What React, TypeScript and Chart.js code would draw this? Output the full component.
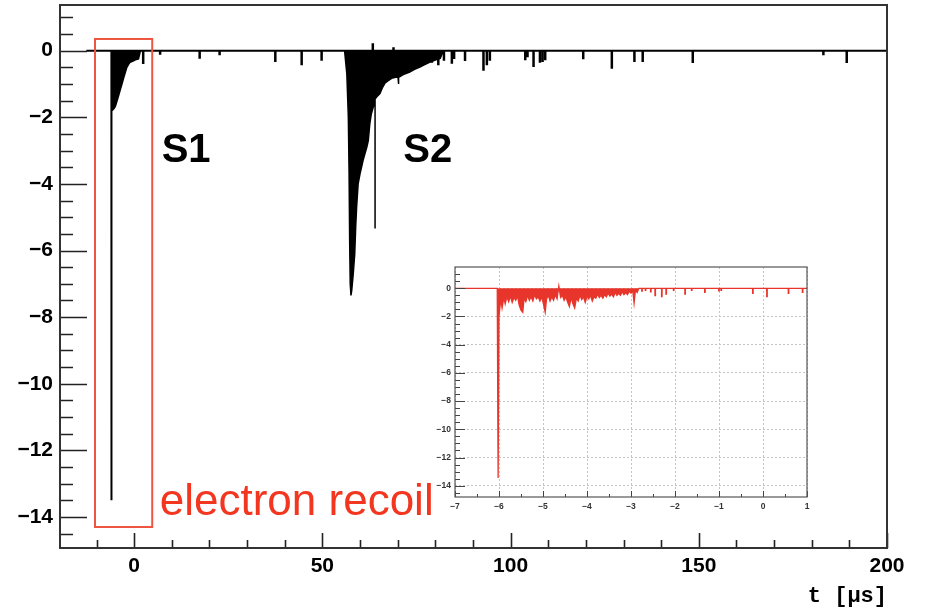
import React, { useEffect, useRef } from "react";
import { Chart, registerables } from "chart.js";

Chart.register(...registerables);

// ---------------- Main waveform (t in µs) ----------------
const baselineT = [-12.7, 200];
const baselineV = [0, 0];

// S1 pulse + its fast tail
const s1T = [-6.05, -6.05, -6.0, -5.8, -5.5, -5.2, -5.0, -4.6, -4.2, -3.7, -3.3, -2.8, -2.4, -2.0, -1.5, -1.1, -0.6, -0.2, 0.3, 0.8, 1.1, 1.4, 1.6];
const s1V = [0, -13.5, -1.8, -1.78, -1.75, -1.7, -1.65, -1.5, -1.35, -1.15, -1.0, -0.8, -0.65, -0.5, -0.4, -0.34, -0.32, -0.3, -0.27, -0.25, -0.24, -0.1, 0];

// S2 pulse envelope
const s2T = [55.9, 56.0, 56.5, 56.9, 57.1, 57.25, 57.4, 57.6, 57.8, 58.2,
  58.6, 58.85, 59.1, 59.5, 60.0, 60.4, 60.8, 61.3, 61.8, 62.2,
  62.6, 63.0, 63.5, 64.0, 64.0, 64.0, 64.4, 65.3, 66.0, 66.6,
  67.5, 68.4, 69.5, 70.1, 70.2, 70.3, 71.5, 73.2, 74.5, 75.9,
  77.2, 78.6, 80.0, 81.3, 82.2];
const s2V = [0, 0, -0.7, -2.0, -3.7, -5.7, -7.0, -7.35, -7.2, -6.7,
  -6.1, -5.3, -4.7, -4.0, -3.7, -3.5, -3.3, -3.1, -2.9, -2.7,
  -2.2, -1.9, -1.7, -1.55, -5.34, -1.45, -1.39, -1.29, -1.1, -0.98,
  -0.9, -0.83, -0.8, -0.8, -1.0, -0.8, -0.72, -0.64, -0.56, -0.49,
  -0.42, -0.34, -0.28, -0.23, 0];

// single photo-electron spikes
const spikeT = [2.4, 6.9, 17.4, 22.7, 37.5, 44.5, 49.8, 63.4, 68.9, 79.1, 80.8, 82.3, 84.4, 85.0, 87.9, 92.8, 93.7, 94.5, 103.9, 104.5, 106.1, 107.8, 108.5, 109.2, 119.3, 126.9, 132.9, 135.1, 148.4, 183.1, 189.3];
const spikeV = [-0.4, -0.12, -0.24, -0.14, -0.34, -0.44, -0.3, 0.22, 0.1, -0.36, -0.44, -0.3, -0.39, -0.25, -0.31, -0.6, -0.44, -0.3, -0.29, -0.2, -0.49, -0.36, -0.34, -0.29, -0.26, -0.54, -0.34, -0.34, -0.37, -0.14, -0.37];

const xMajor = [0, 50, 100, 150, 200];
const xMinor = [-10, 10, 20, 30, 40, 60, 70, 80, 90, 110, 120, 130, 140, 160, 170, 180, 190];
const yMajor = [-14, -12, -10, -8, -6, -4, -2, 0];
const yMinor = [-14.5, -13.5, -13, -12.5, -11.5, -11, -10.5, -9.5, -9, -8.5, -7.5, -7, -6.5, -5.5, -5, -4.5, -3.5, -3, -2.5, -1.5, -1, -0.5, 0.5, 1];

// "electron recoil" box (t range, amplitude range)
const boxT = [-10.4, 4.8];
const boxV = [0.35, -14.3];

// ---------------- Inset: zoom on S1 ----------------
const insetT = [
  -7.0, -6.04, -6.02, -6.0, -5.96, -5.93, -5.89, -5.86, -5.82, -5.78,
  -5.74, -5.7, -5.66, -5.62, -5.58, -5.54, -5.5, -5.46, -5.43, -5.39,
  -5.35, -5.31, -5.27, -5.23, -5.19, -5.15, -5.11, -5.07, -5.03, -4.99,
  -4.95, -4.92, -4.88, -4.84, -4.8, -4.76, -4.72, -4.68, -4.64, -4.6,
  -4.56, -4.52, -4.48, -4.44, -4.4, -4.36, -4.32, -4.28, -4.24, -4.2,
  -4.16, -4.12, -4.08, -4.04, -4.0, -3.96, -3.92, -3.88, -3.84, -3.8,
  -3.76, -3.72, -3.68, -3.64, -3.6, -3.56, -3.52, -3.48, -3.44, -3.4,
  -3.36, -3.32, -3.28, -3.24, -3.2, -3.16, -3.12, -3.08, -3.04, -3.0,
  -2.96, -2.93, -2.9, -2.86, -2.82, 1.0];
const insetV = [
  0, 0, -13.45, -2.0, -0.75, -1.4, -0.65, -1.1, -0.6, -0.95,
  -0.55, -1.0, -0.65, -0.85, -0.55, -1.2, -1.55, -1.7, -0.7, -0.95,
  -0.5, -0.85, -0.6, -0.9, -0.45, -0.75, -0.6, -0.9, -0.6, -1.1,
  -1.7, -0.75, -0.5, -0.9, -0.6, -0.85, -0.45, -0.75, 0.15, -0.65,
  -0.5, -0.85, -0.6, -1.0, -1.3, -0.65, -1.1, -1.4, -0.7, -0.9,
  -0.5, -0.8, -0.6, -1.0, -0.55, -0.75, -0.5, -0.9, -0.6, -0.7,
  -0.4, -0.65, -0.5, -0.7, -0.45, -0.6, -0.35, -0.55, -0.4, -0.6,
  -0.3, -0.5, -0.35, -0.5, -0.25, -0.45, -0.3, -0.45, -0.2, -0.35,
  -0.15, -1.05, -0.15, -0.3, 0, 0];
const insetSpikeT = [-2.75, -2.67, -2.55, -2.45, -2.3, -2.2, -2.03, -1.77, -1.62, -1.32, -1.0, -0.95, -0.23, 0.09, 0.58, 0.9];
const insetSpikeV = [-0.25, -0.2, -0.3, -0.57, -0.64, -0.45, -0.2, -0.45, -0.2, -0.33, -0.22, -0.2, -0.4, -0.64, -0.4, -0.33];

const insetXMajor = [-7, -6, -5, -4, -3, -2, -1, 0, 1];
const insetXMinor = [-6.5, -5.5, -4.5, -3.5, -2.5, -1.5, -0.5, 0.5];
const insetYMajor = [-14, -12, -10, -8, -6, -4, -2, 0];
const insetYMinor = [-14.5, -13.5, -13, -12.5, -11.5, -11, -10.5, -9.5, -9, -8.5, -7.5, -7, -6.5, -5.5, -5, -4.5, -3.5, -3, -2.5, -1.5, -1, -0.5, 0.5, 1];

// ---------------- helpers ----------------
const pts = (ts: number[], vs: number[]) => ts.map((t, i) => ({ x: t, y: vs[i] }));
const spikePts = (ts: number[], vs: number[]) =>
  ts.flatMap((t, i) => [{ x: t, y: 0 }, { x: t, y: vs[i] }, { x: t, y: null as any }]);
const fmt = (v: any) => (Number(v) < 0 ? "\u2212" + Math.abs(Number(v)) : String(v));

const fitX = (h: number) => (s: any) => {
  s.height = h;
  s.paddingLeft = 0;
  s.paddingRight = 0;
  s.paddingTop = 0;
  s.paddingBottom = 0;
};
const fitY = (w: number) => (s: any) => {
  s.width = w;
  s.paddingLeft = 0;
  s.paddingRight = 0;
  s.paddingTop = 0;
  s.paddingBottom = 0;
};

type Deco = {
  xMajor: number[]; xMinor: number[]; yMajor: number[]; yMinor: number[];
  xMajorLen: number; xMinorLen: number; yMajorLen: number; yMinorLen: number;
  tickColor: string; tickWidth: number; frameColor: string; frameWidth: number;
  background?: string;
};

function axisPlugin(id: string, d: Deco) {
  return {
    id,
    beforeDraw(chart: any) {
      if (!d.background) return;
      const { ctx, chartArea: a } = chart;
      ctx.save();
      ctx.fillStyle = d.background;
      ctx.fillRect(a.left, a.top, a.right - a.left, a.bottom - a.top);
      ctx.restore();
    },
    afterDatasetsDraw(chart: any) {
      const { ctx, chartArea: a, scales } = chart;
      const x = scales.x;
      const y = scales.y;
      ctx.save();
      ctx.strokeStyle = d.tickColor;
      ctx.lineWidth = d.tickWidth;
      ctx.lineCap = "butt";
      ctx.beginPath();
      const tx = (v: number, len: number) => {
        const p = Math.round(x.getPixelForValue(v)) + 0.5;
        ctx.moveTo(p, a.bottom);
        ctx.lineTo(p, a.bottom - len);
      };
      const ty = (v: number, len: number) => {
        const p = Math.round(y.getPixelForValue(v)) + 0.5;
        ctx.moveTo(a.left, p);
        ctx.lineTo(a.left + len, p);
      };
      d.xMajor.forEach((v) => tx(v, d.xMajorLen));
      d.xMinor.forEach((v) => tx(v, d.xMinorLen));
      d.yMajor.forEach((v) => ty(v, d.yMajorLen));
      d.yMinor.forEach((v) => ty(v, d.yMinorLen));
      ctx.stroke();
      ctx.strokeStyle = d.frameColor;
      ctx.lineWidth = d.frameWidth;
      ctx.strokeRect(a.left, a.top, a.right - a.left, a.bottom - a.top);
      ctx.restore();
    },
  };
}

const annotations = {
  id: "annotations",
  afterDraw(chart: any) {
    const { ctx, scales } = chart;
    const x = scales.x;
    const y = scales.y;
    ctx.save();
    const bx0 = x.getPixelForValue(boxT[0]);
    const bx1 = x.getPixelForValue(boxT[1]);
    const by0 = y.getPixelForValue(boxV[0]);
    const by1 = y.getPixelForValue(boxV[1]);
    ctx.strokeStyle = "#ee5540";
    ctx.lineWidth = 2;
    ctx.strokeRect(bx0, by0, bx1 - bx0, by1 - by0);

    ctx.textAlign = "left";
    ctx.textBaseline = "alphabetic";
    ctx.fillStyle = "#000";
    ctx.font = 'bold 40px "Liberation Sans", Arial, sans-serif';
    ctx.fillText("S1", x.getPixelForValue(7.3), y.getPixelForValue(-3.35));
    ctx.fillText("S2", x.getPixelForValue(71.5), y.getPixelForValue(-3.35));

    ctx.fillStyle = "#f2361f";
    ctx.font = '44px "Liberation Sans", Arial, sans-serif';
    ctx.fillText("electron recoil", x.getPixelForValue(6.8), y.getPixelForValue(-13.94));
    ctx.restore();
  },
};

const mainFont = { family: '"Liberation Sans", Arial, sans-serif', size: 21, weight: "bold" as const };
const insetFont = { family: '"Liberation Sans", Arial, sans-serif', size: 8.5, weight: "bold" as const };

export default function App() {
  const mainRef = useRef<HTMLCanvasElement>(null);
  const insetRef = useRef<HTMLCanvasElement>(null);

  useEffect(() => {
    document.body.style.margin = "0";
    const main = new Chart(mainRef.current as HTMLCanvasElement, {
      type: "line",
      data: {
        datasets: [
          { data: pts(baselineT, baselineV) as any, borderColor: "#000", borderWidth: 2, fill: false },
          { data: pts(s1T, s1V) as any, borderColor: "#000", backgroundColor: "#000", borderWidth: 2, fill: "origin" },
          { data: pts(s2T, s2V) as any, borderColor: "#000", backgroundColor: "#000", borderWidth: 1.5, fill: "origin" },
          { data: spikePts(spikeT, spikeV) as any, borderColor: "#000", borderWidth: 2.5, fill: false, spanGaps: false },
        ],
      },
      options: {
        responsive: true,
        maintainAspectRatio: false,
        animation: false,
        events: [],
        layout: { padding: { top: 5, right: 41, left: 0, bottom: 0 } },
        plugins: { legend: { display: false }, tooltip: { enabled: false } },
        elements: { point: { radius: 0 }, line: { tension: 0, borderCapStyle: "butt", borderJoinStyle: "miter" } },
        scales: {
          x: {
            type: "linear",
            min: -19.7,
            max: 200,
            grid: { display: false, drawTicks: false },
            border: { display: false },
            afterBuildTicks: (s: any) => { s.ticks = xMajor.map((v) => ({ value: v })); },
            afterFit: fitX(59),
            ticks: { padding: 6, color: "#000", font: mainFont, callback: fmt, maxRotation: 0, autoSkip: false },
            title: {
              display: true,
              text: "t [\u03bcs]",
              align: "end",
              color: "#000",
              font: { family: '"Liberation Mono", "DejaVu Sans Mono", monospace', size: 22, weight: "bold", lineHeight: 1 },
              padding: { top: 0, bottom: 0 },
            },
          },
          y: {
            type: "linear",
            min: -14.93,
            max: 1.37,
            grid: { display: false, drawTicks: false },
            border: { display: false },
            afterBuildTicks: (s: any) => { s.ticks = yMajor.map((v) => ({ value: v })); },
            afterFit: fitY(60),
            ticks: { padding: 7, color: "#000", font: mainFont, callback: fmt, autoSkip: false },
          },
        },
      },
      plugins: [
        axisPlugin("mainAxes", {
          xMajor, xMinor, yMajor, yMinor,
          xMajorLen: 15, xMinorLen: 8, yMajorLen: 27, yMinorLen: 13,
          tickColor: "#222", tickWidth: 1.6, frameColor: "#333", frameWidth: 2,
        }),
        annotations,
      ],
    } as any);

    const inset = new Chart(insetRef.current as HTMLCanvasElement, {
      type: "line",
      data: {
        datasets: [
          { data: pts(insetT, insetV) as any, borderColor: "#e8352b", backgroundColor: "#e8352b", borderWidth: 1.3, fill: "origin" },
          { data: spikePts(insetSpikeT, insetSpikeV) as any, borderColor: "#e8352b", borderWidth: 1.8, fill: false, spanGaps: false },
        ],
      },
      options: {
        responsive: true,
        maintainAspectRatio: false,
        animation: false,
        events: [],
        layout: { padding: { top: 7, right: 13, left: 0, bottom: 0 } },
        plugins: { legend: { display: false }, tooltip: { enabled: false } },
        elements: { point: { radius: 0 }, line: { tension: 0, borderCapStyle: "butt" } },
        scales: {
          x: {
            type: "linear",
            min: -7,
            max: 1,
            grid: { display: true, drawTicks: false, color: "#c4c4c4", lineWidth: 1 },
            border: { display: false, dash: [2, 2] },
            afterBuildTicks: (s: any) => { s.ticks = insetXMajor.map((v) => ({ value: v })); },
            afterFit: fitX(23),
            ticks: { padding: 5, color: "#333", font: insetFont, callback: fmt, maxRotation: 0, autoSkip: false },
          },
          y: {
            type: "linear",
            min: -14.8,
            max: 1.51,
            grid: { display: true, drawTicks: false, color: "#c4c4c4", lineWidth: 1 },
            border: { display: false, dash: [2, 2] },
            afterBuildTicks: (s: any) => { s.ticks = insetYMajor.map((v) => ({ value: v })); },
            afterFit: fitY(35),
            ticks: { padding: 4, color: "#333", font: insetFont, callback: fmt, autoSkip: false },
          },
        },
      },
      plugins: [
        axisPlugin("insetAxes", {
          xMajor: insetXMajor, xMinor: insetXMinor, yMajor: insetYMajor, yMinor: insetYMinor,
          xMajorLen: 6, xMinorLen: 3, yMajorLen: 10, yMinorLen: 5,
          tickColor: "#444", tickWidth: 1, frameColor: "#555", frameWidth: 1.2,
          background: "#fff",
        }),
      ],
    } as any);

    return () => {
      main.destroy();
      inset.destroy();
    };
  }, []);

  return (
    <div style={{ position: "relative", width: 928, height: 607, background: "#fff", overflow: "hidden" }}>
      <div style={{ position: "absolute", left: 0, top: 0, width: 928, height: 607 }}>
        <canvas ref={mainRef} />
      </div>
      <div style={{ position: "absolute", left: 420, top: 260, width: 400, height: 260 }}>
        <canvas ref={insetRef} />
      </div>
    </div>
  );
}
